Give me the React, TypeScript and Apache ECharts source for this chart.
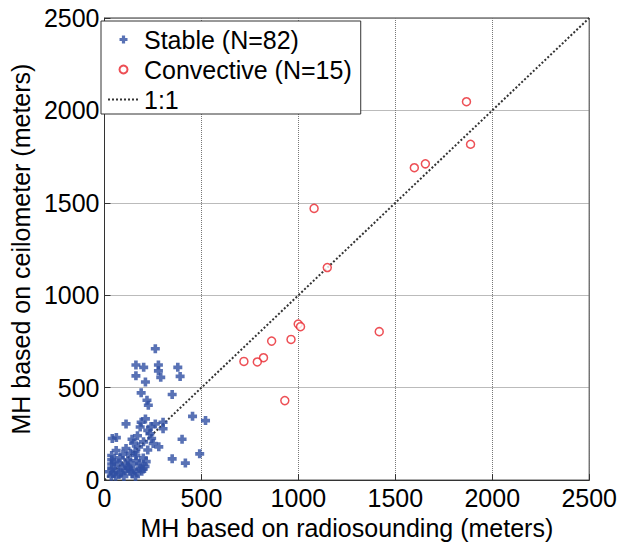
import React, { useEffect, useRef } from "react";
import * as echarts from "echarts";

// Stable cases (N=82): [radiosounding MH, ceilometer MH] in meters
const stableData: number[][] = [
  [262, 711], [162, 623], [202, 610], [278, 623], [278, 591], [378, 610],
  [162, 564], [290, 556], [390, 561], [211, 531], [189, 472], [349, 463],
  [219, 432], [226, 405], [454, 345], [521, 322], [211, 331], [189, 313],
  [111, 304], [262, 304], [302, 313], [184, 287], [223, 269], [302, 278],
  [234, 251], [40, 225], [61, 230], [142, 221], [243, 225], [400, 221],
  [201, 207], [251, 198], [176, 180], [111, 171], [223, 163], [280, 180],
  [158, 154], [133, 145], [37, 133], [162, 133], [491, 142], [37, 110],
  [349, 115], [120, 110], [164, 105], [417, 92], [37, 87], [74, 92],
  [108, 83], [133, 92], [180, 87], [209, 74], [37, 65], [57, 57],
  [91, 65], [125, 65], [150, 57], [184, 65], [46, 39], [74, 30],
  [133, 48], [167, 39], [192, 48], [35, 21], [108, 51], [142, 34],
  [57, 21], [80, 120], [95, 140], [60, 160], [150, 200], [170, 240],
  [200, 120], [215, 100], [100, 20], [160, 20], [120, 75], [50, 100],
  [85, 40], [200, 60], [25, 45], [240, 290],
];

// Convective cases (N=15)
const convectiveData: number[][] = [
  [1867, 2047], [1888, 1817], [1598, 1690], [1655, 1711], [1081, 1470],
  [1149, 1150], [999, 844], [1011, 830], [1417, 803], [962, 761],
  [862, 752], [820, 662], [788, 639], [930, 430], [719, 642],
];

const oneToOne: number[][] = [[0, 0], [2500, 2500]];

const axisMin = 0;
const axisMax = 2500;
const axisInterval = 500;

const seriesNames = ["Stable (N=82)", "Convective (N=15)", "1:1"];
const xAxisTitle = "MH based on radiosounding (meters)";
const yAxisTitle = "MH based on ceilometer (meters)";

const FONT = "Liberation Sans, Arial, sans-serif";
const plusPath = "path://M3,0H7V3H10V7H7V10H3V7H0V3H3Z";

export default function App() {
  const ref = useRef<HTMLDivElement>(null);
  useEffect(() => {
    document.body.style.margin = "0";
    if (!ref.current) return;
    const chart = echarts.init(ref.current, undefined, { renderer: "svg" });
    const axisCommon = {
      type: "value" as const,
      min: axisMin,
      max: axisMax,
      interval: axisInterval,
      axisLine: { show: true, lineStyle: { color: "#333", width: 1 } },
      axisTick: { show: true, inside: true, length: 6, lineStyle: { color: "#333" } },
      axisLabel: {
        fontSize: 25,
        color: "#000",
        fontFamily: FONT,
        margin: 5,
        formatter: (v: number) => String(v),
      },
      splitLine: { show: true, lineStyle: { type: "dotted" as const, color: "#777", width: 1 } },
      nameLocation: "middle" as const,
      nameTextStyle: { fontSize: 25, color: "#000", fontFamily: FONT },
    };
    chart.setOption({
      animation: false,
      backgroundColor: "#fff",
      grid: {
        left: 97, right: 29, top: 18, bottom: 56,
        show: true, borderColor: "#333", borderWidth: 1,
      },
      xAxis: {
        ...axisCommon,
        name: xAxisTitle,
        nameGap: 29,
      },
      yAxis: {
        ...axisCommon,
        name: yAxisTitle,
        nameGap: 62,
        nameRotate: 90,
      },
      legend: {
        orient: "vertical",
        left: 101,
        top: 21,
        padding: [6, 9, 2, 6],
        itemGap: 5,
        itemWidth: 31,
        itemHeight: 8,
        borderColor: "#333",
        borderWidth: 1,
        backgroundColor: "#fff",
        textStyle: { fontSize: 25, color: "#000", fontFamily: FONT },
        data: seriesNames,
      },
      series: [
        {
          name: seriesNames[0],
          type: "scatter",
          data: stableData,
          symbol: plusPath,
          symbolSize: 9,
          itemStyle: { color: "#2f4fa2" },
          z: 3,
        },
        {
          name: seriesNames[1],
          type: "scatter",
          data: convectiveData,
          symbol: "circle",
          symbolSize: 8,
          itemStyle: { color: "#fff", borderColor: "#e8232b", borderWidth: 1.5 },
          z: 4,
        },
        {
          name: seriesNames[2],
          type: "line",
          data: oneToOne,
          symbol: "none",
          itemStyle: { color: "rgba(0,0,0,0)" },
          lineStyle: { color: "#333", width: 2, type: [2, 2] },
          z: 2,
        },
      ],
    });
    return () => chart.dispose();
  }, []);
  return (
    <div
      ref={ref}
      style={{ position: "absolute", left: 0, top: 0, width: 620, height: 545 }}
    />
  );
}
